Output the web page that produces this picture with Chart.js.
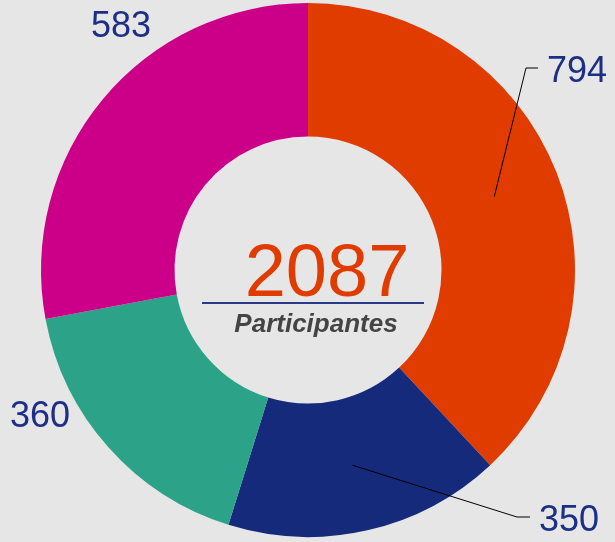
<!DOCTYPE html>
<html>
<head>
<meta charset="utf-8">
<script src="https://cdn.jsdelivr.net/npm/chart.js@4"></script>
<style>
    html, body { margin: 0; padding: 0; background: #e6e6e6; }
    #wrap { width: 615px; height: 542px; }
</style>
</head>
<body>
<div id="wrap"><canvas id="donut" width="615" height="542"></canvas></div>
<script>
// datos del gráfico
const categories = ['Grupo 1', 'Grupo 2', 'Grupo 3', 'Grupo 4'];
const values = [794, 350, 360, 583];
const sliceColors = ['#e03c00', '#162a7b', '#2ca388', '#cc0088'];
const centerCaption = 'Participantes';

// posición de las etiquetas respecto al centro del anillo (solo maquetación)
const labelLayout = [
    { elbow: [218, -202], lineEnd: 12, text: [239, -188] },
    { elbow: [209, 247], lineEnd: 13, text: [231, 261] },
    { text: [-298, 157] },
    { text: [-217, -233] }
];

const total = values.reduce((a, b) => a + b, 0);
const font = '"Liberation Sans", Arial, sans-serif';

const labelsPlugin = {
    id: 'labelsPlugin',
    beforeDraw(chart) {
        const ctx = chart.ctx;
        ctx.save();
        ctx.fillStyle = '#e6e6e6';
        ctx.fillRect(0, 0, chart.width, chart.height);
        ctx.restore();
    },
    afterDatasetsDraw(chart) {
        const ctx = chart.ctx;
        const arcs = chart.getDatasetMeta(0).data;
        const cx = arcs[0].x;
        const cy = arcs[0].y;
        ctx.save();

        arcs.forEach((arc, i) => {
            const lay = labelLayout[i];
            if (lay.elbow) {
                const mid = (arc.startAngle + arc.endAngle) / 2;
                const r = (arc.innerRadius + arc.outerRadius) / 2;
                const ex = cx + lay.elbow[0];
                const ey = cy + lay.elbow[1];
                ctx.beginPath();
                ctx.moveTo(cx + Math.cos(mid) * r, cy + Math.sin(mid) * r);
                ctx.lineTo(ex, ey);
                ctx.lineTo(ex + lay.lineEnd, ey);
                ctx.strokeStyle = '#000';
                ctx.lineWidth = 1;
                ctx.stroke();
            }
            ctx.font = '36px ' + font;
            ctx.fillStyle = '#1d2f85';
            ctx.textAlign = 'left';
            ctx.textBaseline = 'alphabetic';
            ctx.fillText(String(values[i]), cx + lay.text[0], cy + lay.text[1]);
        });

        // texto central
        ctx.textAlign = 'center';
        ctx.fillStyle = '#e03c00';
        ctx.font = '74px ' + font;
        ctx.fillText(String(total), cx + 19, cy + 26);

        ctx.beginPath();
        ctx.moveTo(cx - 106, cy + 33);
        ctx.lineTo(cx + 116, cy + 33);
        ctx.strokeStyle = '#2b3a8a';
        ctx.lineWidth = 2;
        ctx.stroke();

        ctx.fillStyle = '#444444';
        ctx.font = 'italic bold 26px ' + font;
        ctx.fillText(centerCaption, cx + 8, cy + 62);
        ctx.restore();
    }
};

new Chart(document.getElementById('donut'), {
    type: 'doughnut',
    data: {
        labels: categories,
        datasets: [{
            data: values,
            backgroundColor: sliceColors,
            borderWidth: 0,
            hoverOffset: 0
        }]
    },
    options: {
        responsive: false,
        animation: false,
        cutout: '50%',
        layout: { padding: { top: 3, bottom: 5, left: 1, right: 0 } },
        plugins: {
            legend: { display: false },
            tooltip: { enabled: false }
        }
    },
    plugins: [labelsPlugin]
});
</script>
</body>
</html>
